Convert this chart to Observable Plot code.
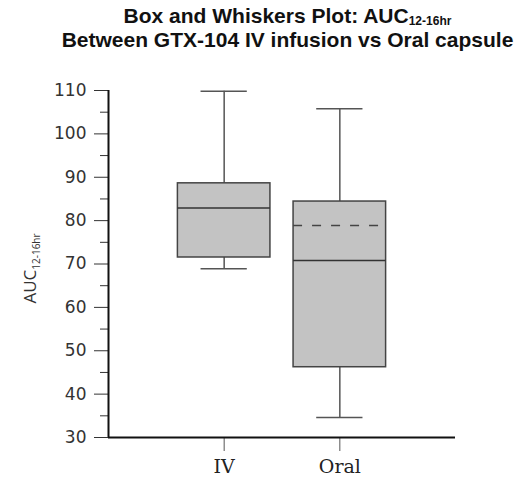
<!DOCTYPE html>
<html>
<head>
<meta charset="utf-8">
<script src="https://cdn.jsdelivr.net/npm/d3@7"></script>
<script src="https://cdn.jsdelivr.net/npm/@observablehq/plot@0.6"></script>
<style>
  html, body { margin: 0; padding: 0; background: #fff; }
  body { width: 521px; height: 482px; overflow: hidden; }
  #title {
    height: 70px; box-sizing: border-box; padding: 4px 0 0 54px;
    font-family: "Liberation Sans", Arial, sans-serif; font-weight: bold;
    font-size: 21px; line-height: 24px; text-align: center; color: #111;
  }
  #title .sub { font-size: 12px; position: relative; top: 2px; line-height: 0; }
</style>
</head>
<body>
<div id="title">Box and Whiskers Plot: AUC<span class="sub">12-16hr</span><br>Between GTX-104 IV infusion vs Oral capsule</div>
<div id="chart"></div>
<script>
const categories = ["IV", "Oral"];
const minValues = [68.9, 34.6];
const q1Values = [71.5, 46.2];
const medianValues = [82.9, 70.8];
const q3Values = [88.6, 84.4];
const maxValues = [109.8, 105.8];
const meanValues = [null, 78.9];
const majorTicks = [30, 40, 50, 60, 70, 80, 90, 100, 110];
const minorTicks = [35, 45, 55, 65, 75, 85, 95, 105];

const rows = categories.map((c, i) => ({
  cat: c, pos: i + 1,
  min: minValues[i], q1: q1Values[i], median: medianValues[i],
  q3: q3Values[i], max: maxValues[i], mean: meanValues[i]
}));
const boxHalf = 0.4, capHalf = 0.2;

const chart = Plot.plot({
  width: 521,
  height: 412,
  marginTop: 20,
  marginBottom: 45,
  marginLeft: 108,
  marginRight: 66,
  style: { fontFamily: "DejaVu Sans", fontSize: "17px", color: "#333", background: "#fff" },
  x: { domain: [0, 3] },
  y: { domain: [30, 110] },
  marks: [
    // whiskers
    Plot.ruleX(rows, { x: "pos", y1: "q3", y2: "max", stroke: "#555", strokeWidth: 1.5 }),
    Plot.ruleX(rows, { x: "pos", y1: "q1", y2: "min", stroke: "#555", strokeWidth: 1.5 }),
    // caps
    Plot.ruleY(rows, { y: "max", x1: d => d.pos - capHalf, x2: d => d.pos + capHalf, stroke: "#555", strokeWidth: 1.5 }),
    Plot.ruleY(rows, { y: "min", x1: d => d.pos - capHalf, x2: d => d.pos + capHalf, stroke: "#555", strokeWidth: 1.5 }),
    // boxes
    Plot.rect(rows, { x1: d => d.pos - boxHalf, x2: d => d.pos + boxHalf, y1: "q1", y2: "q3", fill: "#c3c3c3", stroke: "#444", strokeWidth: 1.5 }),
    // median
    Plot.ruleY(rows, { y: "median", x1: d => d.pos - boxHalf, x2: d => d.pos + boxHalf, stroke: "#333", strokeWidth: 1.5 }),
    // mean (dashed)
    Plot.ruleY(rows.filter(d => d.mean != null), { y: "mean", x1: d => d.pos - boxHalf, x2: d => d.pos + boxHalf, stroke: "#444", strokeWidth: 1.5, strokeDasharray: "9,10" }),
    // axes
    Plot.axisY({ ticks: majorTicks, tickSize: 14, tickPadding: 8, stroke: "#333", fill: "#333", label: null }),
    Plot.axisY({ ticks: minorTicks, tickSize: 8, tickFormat: () => "", stroke: "#333", label: null }),
    Plot.axisX({ ticks: [1, 2], tickFormat: i => categories[i - 1], tickSize: 14, tickPadding: 8, stroke: "#555", fill: "#222", fontFamily: "DejaVu Serif", fontSize: 19, label: null }),
    Plot.ruleX([0], { stroke: "#111", strokeWidth: 2 }),
    Plot.ruleY([30], { stroke: "#111", strokeWidth: 2 })
  ]
});

// y-axis title with subscript
const svg = d3.select(chart);
const yMid = chart.scale("y").apply(70);
const t = svg.append("text")
  .attr("transform", `translate(36, ${yMid + 5}) rotate(-90)`)
  .attr("text-anchor", "middle")
  .attr("font-family", "Open Sans")
  .attr("font-size", 17)
  .attr("fill", "#333");
t.append("tspan").text("AUC");
t.append("tspan").attr("font-size", 10).attr("dy", 4).text("12-16hr");

document.getElementById("chart").appendChild(chart);
</script>
</body>
</html>
